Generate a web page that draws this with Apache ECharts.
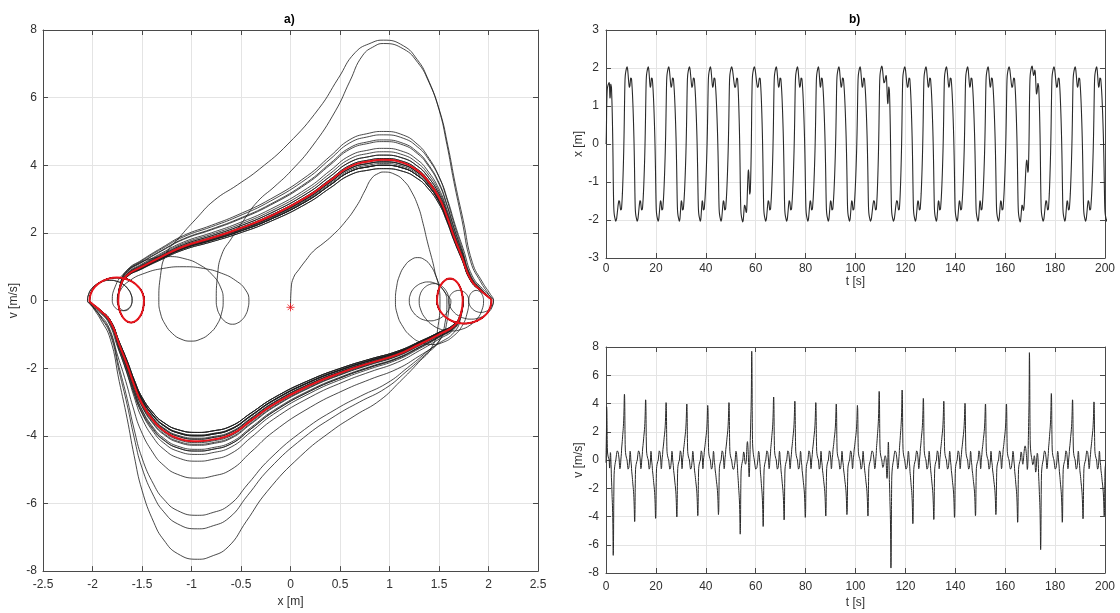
<!DOCTYPE html>
<html>
<head>
<meta charset="utf-8">
<title>Phase portrait and time histories</title>
<script src="https://cdn.jsdelivr.net/npm/echarts@6/dist/echarts.min.js"></script>
<style>
  html, body { margin: 0; padding: 0; background: #ffffff; }
  #chart { width: 1120px; height: 613px; }
</style>
</head>
<body>
<div id="chart"></div>
<script>
// ---- Attractor shape: one crossing from the left well to the right well ----
// tau: seconds relative to the velocity peak, x [m], v [m/s]
const BRANCH_TAU = [-1.64, -1.39, -1.27, -1.10, -0.93, -0.78, -0.62, -0.49, -0.34, -0.21, -0.14, -0.084, -0.034, 0,
                    0.049, 0.084, 0.111, 0.147, 0.176, 0.208, 0.258, 0.352, 0.57, 0.85, 1.05];
const BRANCH_X = [-1.74, -1.72, -1.65, -1.5, -1.3, -1.08, -0.8, -0.54, -0.2, 0.17, 0.4, 0.6, 0.8, 0.94,
                  1.14, 1.28, 1.38, 1.5, 1.58, 1.65, 1.73, 1.82, 1.92, 2.0, 2.03];
const BRANCH_V = [0, 0.4, 0.75, 1.0, 1.3, 1.6, 1.85, 2.1, 2.5, 3.07, 3.55, 3.96, 4.12, 4.16,
                  4.07, 3.85, 3.57, 3.05, 2.49, 1.9, 1.3, 0.62, 0.3, 0.1, 0];
const PEAK_INDEX = 13;

// One half-swing inside a well: fractions of its span, of its peak speed and of its duration
const ARC_X = [0, 0.025, 0.095, 0.21, 0.35, 0.5, 0.655, 0.79, 0.9, 0.975, 1];
const ARC_V = [0, 0.31, 0.59, 0.81, 0.95, 1, 0.95, 0.81, 0.59, 0.31, 0];
const ARC_T = [0, 0.1, 0.2, 0.3, 0.4, 0.5, 0.6, 0.7, 0.8, 0.9, 1];

// Usual swing inside the right well: turning points [m] and peak speeds [m/s]
const WELL_X = [2.03, 1.48, 1.74];
const WELL_V = [0.68, 0.65];

// Initial state
const START_X = 0;
const START_V = -0.2;

// Velocity spikes of the time history: time [s] and peak value [m/s]
const SPIKE_T = [0.25, 2.9, 7.4, 11.5, 15.9, 19.9, 24.1, 28.4, 32.4, 36.8, 40.8, 45.1, 49.3, 53.8,
                 58.4, 63.0, 67.2, 71.4, 75.7, 79.9, 84.1, 88.1, 92.3, 96.6, 100.8, 105.0, 109.5, 114.2,
                 118.7, 123.0, 127.2, 131.4, 135.4, 139.7, 143.9, 148.1, 152.1, 156.3, 160.5, 165.0,
                 169.7, 174.2, 178.5, 182.9, 187.0, 191.2, 195.6, 199.7];
const SPIKE_V = [3.8, -6.75, 4.7, -4.4, 4.3, -4.17, 4.1, -4.07, 4.0, -3.98, 3.9, -3.9, 4.1, -5.25,
                 7.7, -4.75, 4.5, -4.28, 4.2, -4.1, 4.1, -4.0, 4.0, -3.9, 3.9, -4.0, 4.9, -7.65,
                 5.0, -4.55, 4.4, -4.25, 4.2, -4.1, 4.05, -3.98, 4.0, -3.9, 4.0, -4.45,
                 7.6, -6.35, 4.75, -4.45, 4.3, -4.2, 4.15, -4.0];

// Swings that differ from the usual one (index into the spike list)
const VARIANT_AT = [0, 13, 26, 39, 40];
const VARIANT_TURNS = [
  [1.62, 1.2, 1.58],
  [-2.05, -1.6, -1.8, -0.68, -1.33],
  [2.05, 1.6, 1.8, 1.06, 1.51],
  [-2.05, -1.6, -1.75, -0.42, -0.75],
  [2.05, 1.8, 1.95, 1.3, 1.6]
];
const VARIANT_PEAKS = [
  [0.6, 0.55],
  [0.6, 0.3, 1.3, 1.2],
  [0.55, 0.3, 1.3, 1.27],
  [0.6, 0.3, 1.0, 0.7],
  [0.35, 0.3, 0.9, 0.5]
];

const T_END = 200;

// ---- Assemble the trajectory ----
const PEAK_REF = BRANCH_V[PEAK_INDEX];
const X_LEFT = BRANCH_X[0];
const X_PEAK = BRANCH_X[PEAK_INDEX];
const X_RIGHT = BRANCH_X[BRANCH_X.length - 1];
const POST_TAU = BRANCH_TAU[BRANCH_TAU.length - 1];

function wellOf(i) {
  const k = VARIANT_AT.indexOf(i);
  const sg = Math.sign(SPIKE_V[i]);
  if (k >= 0) return { turns: VARIANT_TURNS[k], peaks: VARIANT_PEAKS[k] };
  return { turns: WELL_X.map(x => x * sg), peaks: WELL_V };
}

function preScale(i, xFrom) {
  const sg = Math.sign(SPIKE_V[i]);
  const s = Math.abs(SPIKE_V[i]) / PEAK_REF;
  const xs = sg * xFrom;
  return ((X_PEAK - xs) / (X_PEAK - X_LEFT)) / s;
}

function pushWell(out, turns, peaks, t0, t1) {
  const w = [];
  let wsum = 0;
  for (let k = 0; k < peaks.length; k++) {
    const wk = Math.abs(turns[k + 1] - turns[k]) / peaks[k];
    w.push(wk); wsum += wk;
  }
  let tk = t0;
  for (let k = 0; k < peaks.length; k++) {
    const dur = (t1 - t0) * w[k] / wsum;
    const a = turns[k], b = turns[k + 1];
    const dir = Math.sign(b - a);
    for (let m = 1; m < ARC_X.length; m++) {
      out.push([tk + dur * ARC_T[m], a + (b - a) * ARC_X[m], dir * peaks[k] * ARC_V[m]]);
    }
    tk += dur;
  }
}

const traj = [[0, START_X, START_V]];
let xFrom = START_X;
let tFree = 0;
for (let i = 0; i < SPIKE_T.length; i++) {
  const sg = Math.sign(SPIKE_V[i]);
  const s = Math.abs(SPIKE_V[i]) / PEAK_REF;
  const xs = sg * xFrom;
  const well = wellOf(i);
  const xw = sg * well.turns[0];
  let kp = preScale(i, xFrom);
  const need = -BRANCH_TAU[0] * kp;
  const avail = SPIKE_T[i] - tFree;
  if (need > avail) kp *= avail / need;
  for (let j = 1; j < BRANCH_X.length; j++) {
    let x, tau;
    if (j <= PEAK_INDEX) {
      x = xs + (BRANCH_X[j] - X_LEFT) / (X_PEAK - X_LEFT) * (X_PEAK - xs);
      tau = BRANCH_TAU[j] * kp;
    } else {
      x = X_PEAK + (BRANCH_X[j] - X_PEAK) / (X_RIGHT - X_PEAK) * (xw - X_PEAK);
      tau = BRANCH_TAU[j];
    }
    traj.push([SPIKE_T[i] + tau, sg * x, sg * BRANCH_V[j] * s]);
  }
  const t0 = SPIKE_T[i] + POST_TAU;
  const xLast = well.turns[well.turns.length - 1];
  let t1 = (i + 1 < SPIKE_T.length)
    ? SPIKE_T[i + 1] + BRANCH_TAU[0] * preScale(i + 1, xLast)
    : t0 + 2;
  t1 = Math.max(t1, t0 + 0.4);
  pushWell(traj, well.turns, well.peaks, t0, t1);
  xFrom = xLast;
  tFree = t1;
}

const seriesX = traj.map(p => [p[0], p[1]]);
const seriesV = traj.map(p => [p[0], p[2]]);
const phase = traj.filter(p => p[0] <= T_END).map(p => [p[1], p[2]]);

// Periodic orbit (both crossings with the usual swings)
const orbit = [];
[1, -1].forEach(sg => {
  for (let j = (sg > 0 ? 0 : 1); j < BRANCH_X.length; j++) {
    orbit.push([sg * BRANCH_X[j], sg * BRANCH_V[j]]);
  }
  const turns = WELL_X.map(x => x * sg);
  const tmp = [];
  pushWell(tmp, turns, WELL_V, 0, 1);
  tmp.forEach(p => orbit.push([p[1], p[2]]));
});

// ---- Chart ----
const FONT = 'Liberation Sans, Arial, Helvetica, sans-serif';
const AXIS_COLOR = '#4a4a4a';
const TEXT_COLOR = '#303030';

function mainAxis(extra) {
  return Object.assign({
    type: 'value',
    nameLocation: 'middle',
    nameTextStyle: { color: TEXT_COLOR, fontSize: 12, fontFamily: FONT },
    axisLine: { show: true, onZero: false, lineStyle: { color: AXIS_COLOR, width: 1 } },
    axisTick: { show: true, inside: true, length: 5, lineStyle: { color: AXIS_COLOR, width: 1 } },
    axisLabel: { color: TEXT_COLOR, fontSize: 12, fontFamily: FONT, margin: 8 },
    splitLine: { show: true, lineStyle: { color: '#e4e4e4', width: 1 } }
  }, extra);
}
function frameAxis(extra) {
  return Object.assign({
    type: 'value',
    axisLine: { show: true, onZero: false, lineStyle: { color: AXIS_COLOR, width: 1 } },
    axisTick: { show: true, inside: true, length: 5, lineStyle: { color: AXIS_COLOR, width: 1 } },
    axisLabel: { show: false },
    splitLine: { show: false }
  }, extra);
}

const option = {
  animation: false,
  backgroundColor: '#ffffff',
  grid: [
    { left: 43, top: 30, width: 495, height: 543 },
    { left: 606, top: 30, width: 499, height: 228 },
    { left: 606, top: 347, width: 499, height: 226 }
  ],
  graphic: [
    { type: 'text', left: 284, top: 14, style: { text: 'a)', fill: '#000', font: 'bold 12px ' + FONT } },
    { type: 'text', left: 849, top: 14, style: { text: 'b)', fill: '#000', font: 'bold 12px ' + FONT } }
  ],
  xAxis: [
    mainAxis({ gridIndex: 0, min: -2.5, max: 2.5, interval: 0.5, name: 'x [m]', nameGap: 24 }),
    mainAxis({ gridIndex: 1, min: 0, max: 200, interval: 20, name: 't [s]', nameGap: 17,
               axisLabel: { color: TEXT_COLOR, fontSize: 12, fontFamily: FONT, margin: 5 } }),
    mainAxis({ gridIndex: 2, min: 0, max: 200, interval: 20, name: 't [s]', nameGap: 24 }),
    frameAxis({ gridIndex: 0, position: 'top', min: -2.5, max: 2.5, interval: 0.5 }),
    frameAxis({ gridIndex: 1, position: 'top', min: 0, max: 200, interval: 20 }),
    frameAxis({ gridIndex: 2, position: 'top', min: 0, max: 200, interval: 20 })
  ],
  yAxis: [
    mainAxis({ gridIndex: 0, min: -8, max: 8, interval: 2, name: 'v [m/s]', nameGap: 23,
               axisLabel: { color: TEXT_COLOR, fontSize: 12, fontFamily: FONT, margin: 6 } }),
    mainAxis({ gridIndex: 1, min: -3, max: 3, interval: 1, name: 'x [m]', nameGap: 17,
               axisLabel: { color: TEXT_COLOR, fontSize: 12, fontFamily: FONT, margin: 7 } }),
    mainAxis({ gridIndex: 2, min: -8, max: 8, interval: 2, name: 'v [m/s]', nameGap: 17,
               axisLabel: { color: TEXT_COLOR, fontSize: 12, fontFamily: FONT, margin: 7 } }),
    frameAxis({ gridIndex: 0, position: 'right', min: -8, max: 8, interval: 2 }),
    frameAxis({ gridIndex: 1, position: 'right', min: -3, max: 3, interval: 1 }),
    frameAxis({ gridIndex: 2, position: 'right', min: -8, max: 8, interval: 2 })
  ],
  series: [
    {
      name: 'trajectory', type: 'line', xAxisIndex: 0, yAxisIndex: 0,
      data: phase, showSymbol: false, smooth: 0.5,
      lineStyle: { color: '#1c1c1c', width: 0.8 }, z: 2
    },
    {
      name: 'orbit', type: 'line', xAxisIndex: 0, yAxisIndex: 0,
      data: orbit, showSymbol: false, smooth: 0.5,
      lineStyle: { color: '#e8141c', width: 2 }, z: 3
    },
    {
      name: 'start', type: 'scatter', xAxisIndex: 0, yAxisIndex: 0,
      data: [[START_X, START_V]],
      symbol: 'path://M5,0L5,10M0,5L10,5M1.5,1.5L8.5,8.5M1.5,8.5L8.5,1.5',
      symbolSize: 8,
      itemStyle: { color: 'none', borderColor: '#e8141c', borderWidth: 1 }, z: 4
    },
    {
      name: 'x(t)', type: 'line', xAxisIndex: 1, yAxisIndex: 1,
      data: seriesX, showSymbol: false, smooth: 0.3,
      lineStyle: { color: '#2a2a2a', width: 1.1 }
    },
    {
      name: 'v(t)', type: 'line', xAxisIndex: 2, yAxisIndex: 2,
      data: seriesV, showSymbol: false, smooth: 0.3,
      lineStyle: { color: '#2a2a2a', width: 1 }
    }
  ]
};

const chart = echarts.init(document.getElementById('chart'), null, { renderer: 'canvas' });
chart.setOption(option);
</script>
</body>
</html>
